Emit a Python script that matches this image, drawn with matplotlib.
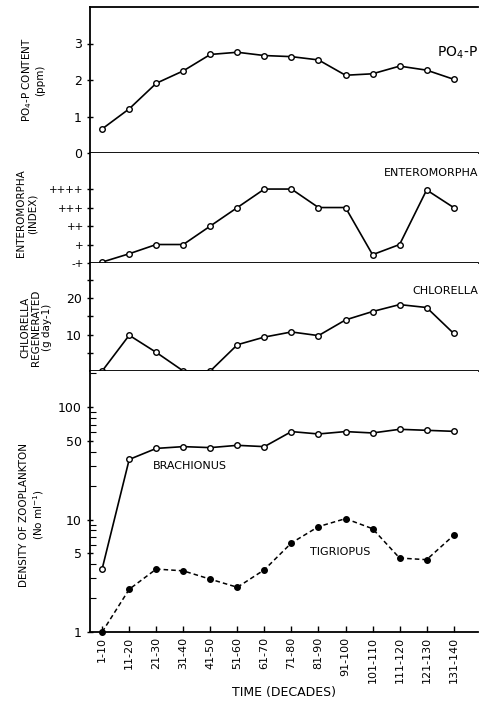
import matplotlib
matplotlib.use("Agg")
import matplotlib.pyplot as plt
import matplotlib.ticker as mticker
import numpy as np

plt.rcParams['font.family'] = ['DejaVu Sans']
plt.rcParams['font.size'] = 8

decades = ["1-10", "11-20", "21-30", "31-40", "41-50", "51-60", "61-70",
           "71-80", "81-90", "91-100", "101-110", "111-120", "121-130", "131-140"]
po4 = [0.66, 1.21, 1.91, 2.25, 2.70, 2.76, 2.67, 2.64, 2.55, 2.13, 2.17, 2.38, 2.27, 2.02]
entero = [0.05, 0.5, 1.0, 1.0, 2.0, 3.0, 4.0, 4.0, 3.0, 3.0, 0.45, 1.0, 3.95, 3.0]
entero_ticks = ["-+", "+", "++", "+++", "++++"]
chlorella = [0, 9.8, 5.1, 0, 0, 7.2, 9.3, 10.7, 9.7, 14.0, 16.3, 18.2, 17.4, 10.3]
brachionus = [3.65, 34.3, 43, 44.6, 43.7, 45.8, 44.6, 60.7, 57.8, 60.7, 59, 63.6, 62.3, 61]
tigriopus = [1.0, 2.4, 3.63, 3.5, 2.95, 2.5, 3.58, 6.2, 8.66, 10.2, 8.3, 4.55, 4.4, 7.24]

x = np.arange(1, len(decades) + 1)

fig = plt.figure(figsize=(4.79, 7.08), dpi=100)
W, H = 479, 708
left, right = 90, 478
# panel boundaries in pixels (top, bottom)
bounds = [(7, 153), (153, 263), (263, 371), (371, 632)]
axes = []
for top, bot in bounds:
    ax = fig.add_axes([left / W, 1 - bot / H, (right - left) / W, (bot - top) / H])
    ax.set_xlim(0.55, 14.9)
    ax.spines['right'].set_visible(False)
    ax.spines['top'].set_visible(False)
    for s in ax.spines.values():
        s.set_linewidth(1.3)
    ax.tick_params(direction='inout', length=5, width=1, labelsize=9)
    ax.tick_params(axis='x', bottom=False, labelbottom=False)
    axes.append(ax)

line_kw = dict(color='black', lw=1.2, marker='o', ms=4, mfc='white', mec='black', mew=1, clip_on=False)

# PO4-P
ax1 = axes[0]
ax1.spines['top'].set_visible(True)
ax1.plot(x, po4, **line_kw)
ax1.set_ylim(0, 4)
ax1.set_yticks([0, 1, 2, 3])
ax1.text(14.9, 2.75, "PO$_4$-P", ha='right', va='center', fontsize=10)
ax1.set_ylabel("PO$_4$-P CONTENT\n(ppm)", fontsize=7.5, linespacing=1.1)
ax1.yaxis.set_label_coords(-0.116, 0.5)

# Enteromorpha
ax2 = axes[1]
ax2.plot(x, entero, **line_kw)
ax2.set_ylim(0, 5.95)
ax2.set_yticks(range(len(entero_ticks)))
ax2.set_yticklabels(entero_ticks, fontsize=7.5)
ax2.tick_params(axis='y', pad=2)
ax2.text(14.9, 4.85, "ENTEROMORPHA", ha='right', va='center', fontsize=8)
ax2.set_ylabel("ENTEROMORPHA\n(INDEX)", fontsize=7.5, linespacing=1.2)
ax2.yaxis.set_label_coords(-0.135, 0.45)

# Chlorella
ax3 = axes[2]
ax3.plot(x, chlorella, **line_kw)
ax3.set_ylim(0, 29.6)
ax3.set_yticks([10, 20])
ax3.set_yticks([5, 15, 25], minor=True)
ax3.tick_params(axis='y', which='minor', direction='inout', length=5, width=1)
ax3.text(14.9, 21.8, "CHLORELLA", ha='right', va='center', fontsize=8)
ax3.set_ylabel("CHLORELLA\nREGENERATED\n(g day-1)", fontsize=7.5, linespacing=1.1)
ax3.yaxis.set_label_coords(-0.098, 0.4)

# Zooplankton
ax4 = axes[3]
ax4.set_yscale('log')
ax4.plot(x, brachionus, **line_kw)
ax4.plot(x, tigriopus, color='black', lw=1.1, ls=(0, (3, 2)), marker='o', ms=4,
         mfc='black', mec='black', clip_on=False)
ax4.set_ylim(1, 210)
ax4.yaxis.set_major_locator(mticker.FixedLocator([1, 5, 10, 50, 100]))
ax4.yaxis.set_major_formatter(mticker.FixedFormatter(["1", "5", "10", "50", "100"]))
minor = [v * d for d in (1, 10, 100) for v in range(2, 10) if v * d not in (5, 50) and v * d < 210]
ax4.yaxis.set_minor_locator(mticker.FixedLocator(minor))
ax4.yaxis.set_minor_formatter(mticker.NullFormatter())
ax4.tick_params(axis='y', which='minor', direction='in', length=4, width=0.8)
ax4.text(4.25, 33, "BRACHIONUS", ha='center', va='top', fontsize=8)
ax4.text(9.8, 5.2, "TIGRIOPUS", ha='center', va='center', fontsize=8)
ax4.set_ylabel("DENSITY OF ZOOPLANKTON\n(No ml$^{-1}$)", fontsize=7.5, linespacing=1.2)
ax4.yaxis.set_label_coords(-0.113, 0.45)

ax4.tick_params(axis='x', bottom=True, labelbottom=True, direction='in', length=4)
ax4.set_xticks(x)
ax4.set_xticklabels(decades, rotation=90, fontsize=8)
ax4.set_xlabel("TIME (DECADES)", fontsize=9, labelpad=2)

fig.savefig("out.png", dpi=100)
